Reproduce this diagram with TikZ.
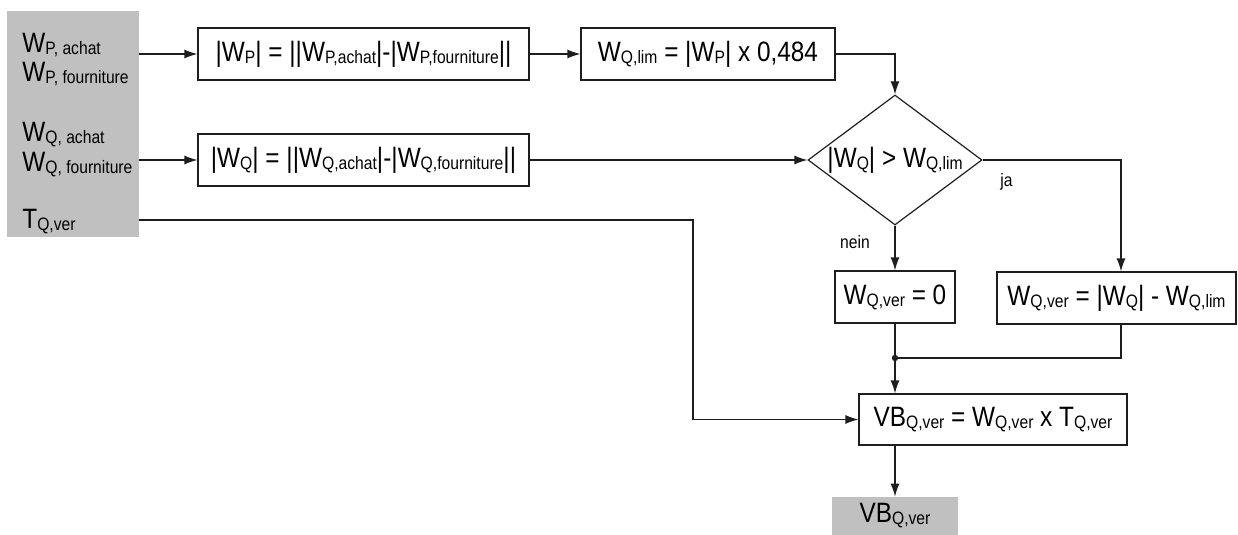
\documentclass[tikz,border=0pt]{standalone}
\usepackage{fontspec}
\setmainfont[FakeStretch=0.87]{Liberation Sans}
\usetikzlibrary{arrows.meta,shapes.geometric}
\newcommand{\sub}[1]{\raisebox{-1pt}{\fontsize{9}{10}\selectfont #1}}
\newcommand{\mainsz}{\fontsize{14}{16}\selectfont}
\definecolor{boxgray}{RGB}{192,192,192}
\definecolor{linecol}{RGB}{30,30,30}
\begin{document}
\begin{tikzpicture}[x=0.5pt,y=-0.5pt,
  box/.style={draw=linecol, line width=0.6pt, inner sep=0pt, font=\mainsz},
  dia/.style={draw=linecol, diamond, aspect=1.34, line width=0.6pt, inner sep=0pt, font=\mainsz},
  graybox/.style={fill=boxgray, inner sep=0pt, font=\mainsz},
  lbl/.style={inner sep=0pt, font=\mainsz},
  small/.style={inner sep=0pt, font=\fontsize{9}{10}\selectfont},
  arr/.style={draw=linecol, -{Latex[length=6.5pt,width=4.5pt]}, line width=0.6pt},
  ln/.style={draw=linecol, line width=0.6pt}]
\useasboundingbox (0,0) rectangle (1238,535);
% input block
\node[graybox, minimum width=66pt, minimum height=113pt] (in) at (73,124) {};
\node[lbl, anchor=base west] (t1) at (22,53) {W\sub{P, achat}};
\node[lbl, anchor=base west] (t2) at (22,82) {W\sub{P, fourniture}};
\node[lbl, anchor=base west] (t3) at (22,142) {W\sub{Q, achat}};
\node[lbl, anchor=base west] (t4) at (22,172) {W\sub{Q, fourniture}};
\node[lbl, anchor=base west] (t5) at (22,228) {T\sub{Q,ver}};
% boxes
\node[box, minimum width=165.5pt, minimum height=26pt] (b1) at (363.5,54) {|W\sub{P}| = ||W\sub{P,achat}|-|W\sub{P,fourniture}||};
\node[box, minimum width=165.5pt, minimum height=26pt] (b2) at (363.5,160) {|W\sub{Q}| = ||W\sub{Q,achat}|-|W\sub{Q,fourniture}||};
\node[box, minimum width=127pt, minimum height=26pt] (b3) at (708,54) {W\sub{Q,lim} = |W\sub{P}| x 0,484};
\node[dia, minimum width=87pt, minimum height=65pt] (d) at (895,160) {|W\sub{Q}| > W\sub{Q,lim}};
\node[box, minimum width=60pt, minimum height=26pt] (b4) at (895,297) {W\sub{Q,ver} = 0};
\node[box, minimum width=119.5pt, minimum height=26pt] (b5) at (1116.5,298) {W\sub{Q,ver} = |W\sub{Q}| - W\sub{Q,lim}};
\node[box, minimum width=134pt, minimum height=25.5pt] (b6) at (993,419.5) {VB\sub{Q,ver} = W\sub{Q,ver} x T\sub{Q,ver}};
\node[graybox, minimum width=63pt, minimum height=19pt] (out) at (895,516) {VB\sub{Q,ver}};
% labels
\node[small, anchor=base] (nein) at (855,249) {nein};
\node[small, anchor=base west] (ja) at (1000,187) {ja};
% connectors
\draw[arr] (in.east |- b1.west) -- (b1.west);
\draw[arr] (in.east |- b2.west) -- (b2.west);
\draw[arr] (b1) -- (b3);
\draw[arr] (b3.east) -| (d.north);
\draw[arr] (b2.east) -- (d.west);
\coordinate (tbend) at (693,220);
\draw[arr] (in.east |- tbend) -- (tbend) |- (b6.west);
\coordinate (jr) at (1121,160);
\draw[arr] (d.east) -- (jr) -- (jr |- b5.north);
\draw[arr] (d.south) -- (b4.north);
\coordinate (j) at (895,358);
\draw[ln] (b4.south) -- (j);
\draw[ln] (jr |- b5.south) |- (j);
\draw[arr] (j) -- (j |- b6.north);
\fill[linecol] (j) circle (1.6pt);
\draw[arr] (j |- b6.south) -- (out.north);
\end{tikzpicture}
\end{document}
